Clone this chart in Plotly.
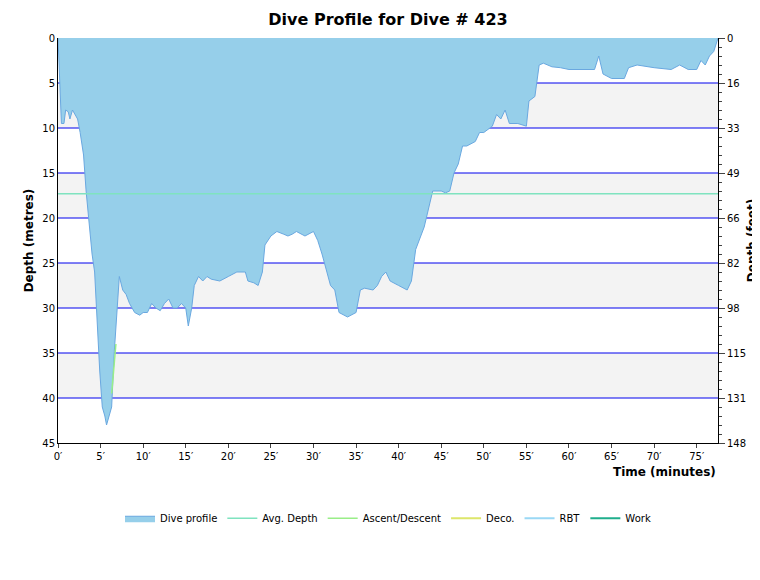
import plotly.graph_objects as go

# dive profile (minutes, metres)
t = [0, 0.2, 0.4, 0.7, 0.9, 1.2, 1.4, 1.7, 2.0, 2.3, 2.6, 3.0, 3.3, 3.6, 4.0, 4.3, 4.6, 4.9,
     5.2, 5.5, 5.7, 6.0, 6.3, 6.6, 6.9, 7.2, 7.6, 8.0, 8.4, 9.0, 9.6, 10, 10.5, 11, 11.5, 12,
     12.5, 13, 13.5, 14, 14.5, 15, 15.3, 15.7, 16, 16.5, 17, 17.5, 18, 19, 20, 21, 22, 22.3,
     23, 23.5, 24, 24.3, 25, 25.7, 26.5, 27, 27.5, 28, 29, 30, 30.5, 31, 32, 32.5, 33, 34,
     35, 35.5, 36, 37, 37.5, 38, 38.5, 39, 40, 41, 41.5, 42, 43, 43.5, 44, 45, 45.5, 46,
     46.5, 47, 47.5, 48, 49, 49.5, 50, 51, 51.5, 52, 52.5, 53, 54, 55, 55.3, 56, 56.5, 57,
     58, 59, 60, 62, 63, 63.5, 64, 65, 66.5, 67, 68, 70, 72, 73, 74, 75, 75.5, 76, 76.5,
     77, 77.5]
depth = [0, 5, 9.5, 9.5, 8, 8.2, 9, 8, 8.5, 9, 10.5, 13, 17, 20, 24, 26, 32, 37,
         41, 42, 43, 42, 41, 35, 31, 26.5, 28, 28.5, 29.5, 30.5, 30.8, 30.5, 30.5, 29.5, 30, 30.3,
         29.5, 29, 30, 30, 29.5, 30, 32, 30, 27.5, 26.5, 27, 26.5, 26.8, 27, 26.5, 26, 26, 27,
         27.2, 27.5, 26, 23, 22, 21.5, 21.8, 22, 21.8, 21.5, 22, 21.5, 22.5, 24, 27.5, 28, 30.5, 31,
         30.5, 28, 27.8, 28, 27.5, 26.5, 26, 27, 27.5, 28, 27, 23.5, 21, 19, 17, 17, 17.2, 17,
         15, 14, 12, 12, 11.5, 10.5, 10.5, 9.8, 8.5, 9, 8, 9.5, 9.5, 9.8, 7, 6.5, 3, 2.8,
         3.2, 3.3, 3.5, 3.5, 3.5, 2, 4, 4.5, 4.5, 3.3, 3, 3.3, 3.5, 3, 3.5, 3.5, 2.5, 3, 2,
         1.5, 0]
avg_depth = 17.3
ascent_t = [6.3, 6.8]
ascent_d = [39.5, 34]

x_ticks = list(range(0, 80, 5))
y_ticks = list(range(0, 50, 5))
feet_labels = ["0", "16", "33", "49", "66", "82", "98", "115", "131", "148"]

fig = go.Figure()
fig.add_trace(go.Scatter(x=t, y=depth, mode="lines", fill="tozeroy", name="Dive profile",
                         fillcolor="#96cfea", line=dict(color="#6aa8e0", width=1)))
fig.add_trace(go.Scatter(x=[0, 77.5], y=[avg_depth, avg_depth], mode="lines", name="Avg. Depth",
                         line=dict(color="#7fe3bf", width=1.5)))
fig.add_trace(go.Scatter(x=ascent_t, y=ascent_d, mode="lines", name="Ascent/Descent",
                         line=dict(color="#99ee88", width=1.5)))
fig.add_trace(go.Scatter(x=[None], y=[None], mode="lines", name="Deco.",
                         line=dict(color="#dde66a", width=2)))
fig.add_trace(go.Scatter(x=[None], y=[None], mode="lines", name="RBT",
                         line=dict(color="#9ad8f5", width=2)))
fig.add_trace(go.Scatter(x=[None], y=[None], mode="lines", name="Work",
                         line=dict(color="#1fae8c", width=2)))
# invisible trace for right axis
fig.add_trace(go.Scatter(x=[None], y=[None], yaxis="y2", showlegend=False))

shapes = []
for y0 in range(5, 45, 10):
    shapes.append(dict(type="rect", xref="paper", x0=0, x1=1, yref="y", y0=y0, y1=y0 + 5,
                       fillcolor="#f3f3f3", line=dict(width=0), layer="below"))
for yv in y_ticks[1:-1]:
    shapes.append(dict(type="line", xref="paper", x0=0, x1=1, yref="y", y0=yv, y1=yv,
                       line=dict(color="#0000ee", width=1), layer="below"))

fig.update_layout(
    width=760, height=580,
    margin=dict(l=50, r=50, t=30, b=145, autoexpand=False),
    plot_bgcolor="white", paper_bgcolor="white",
    font=dict(family="DejaVu Sans", size=10, color="#000"),
    title=dict(text="<b>Dive Profile for Dive # 423</b>", x=0.5, y=0.99, yanchor="top",
               font=dict(size=16)),
    shapes=shapes,
    xaxis=dict(range=[0, 77.5], tickvals=x_ticks, ticktext=[f"{v}′" for v in x_ticks],
               showgrid=False, zeroline=False, showline=True, linecolor="#000", ticks="outside",
               ticklen=4),
    yaxis=dict(range=[45, 0], tickvals=y_ticks, showgrid=False,
               zeroline=False, showline=True, linecolor="#000",
               title=dict(text="<b>Depth (metres)</b>", standoff=6, font=dict(size=12))),
    yaxis2=dict(range=[45, 0], overlaying="y", side="right", tickvals=y_ticks, ticktext=feet_labels,
                showgrid=False, zeroline=False, showline=True, linecolor="#000", ticks="outside",
                ticklen=6, minor=dict(dtick=1, ticks="outside", ticklen=3),
                title=dict(text="<b>Depth (feet)</b>", standoff=2, font=dict(size=12))),
    annotations=[dict(text="<b>Time (minutes)</b>", xref="paper", yref="paper", x=1, y=-0.05,
                      xanchor="right", yanchor="top", showarrow=False, font=dict(size=12))],
    legend=dict(orientation="h", x=0.5, xanchor="center", y=-0.15, yanchor="top",
                font=dict(size=10)),
)

fig.write_html("out.html")
